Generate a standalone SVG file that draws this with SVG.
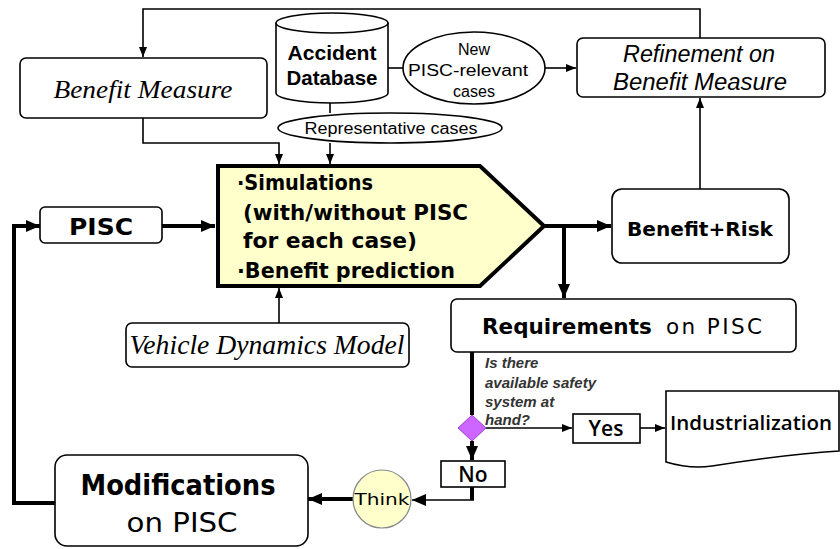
<svg xmlns="http://www.w3.org/2000/svg" width="840" height="549" viewBox="0 0 840 549">
<defs>
<style>
.box{fill:#fff;stroke:#000;stroke-width:1.6}
.thin{fill:none;stroke:#000;stroke-width:1.6}
.thick{fill:none;stroke:#000;stroke-width:4}
.sans{font-family:"Liberation Sans",Arial,sans-serif}
.serif{font-family:"Liberation Serif","Times New Roman",serif;font-style:italic}
.comic{font-family:"DejaVu Sans","Noto Sans",sans-serif}
.open{font-family:"Open Sans","Noto Sans",sans-serif}
</style>
<marker id="ah" markerUnits="userSpaceOnUse" markerWidth="10" markerHeight="10" viewBox="0 0 10 10" refX="10" refY="5" orient="auto">
<path d="M0,1 L10,5 L0,9 Z" fill="#000"/>
</marker>
<marker id="ahb" markerUnits="userSpaceOnUse" markerWidth="14" markerHeight="14" viewBox="0 0 14 14" refX="14" refY="7" orient="auto">
<path d="M0,1 L14,7 L0,13 Z" fill="#000"/>
</marker>
</defs>
<rect width="840" height="549" fill="#fff"/>

<g id="connectors">
<path class="thin" d="M700,38 V9 H143 V57" marker-end="url(#ah)"/>
<path class="thin" d="M700,189 V98" marker-end="url(#ah)"/>
<path class="thin" d="M388,68 H403"/>
<path class="thin" d="M545,68 H576" marker-end="url(#ah)"/>
<path class="thin" d="M330,103 V113"/>
<path class="thin" d="M330,143 V164" marker-end="url(#ah)"/>
<path class="thin" d="M143,118 V143 H279 V164" marker-end="url(#ah)"/>
<path class="thin" d="M279,323 V288" marker-end="url(#ah)"/>
<path class="thick" d="M162,226 H215" marker-end="url(#ahb)"/>
<path class="thick" d="M545,226 H611" marker-end="url(#ahb)"/>
<path class="thick" d="M564,226 V298" marker-end="url(#ahb)"/>
<path class="thick" d="M472,352 V415"/>
<path class="thin" d="M486,428 H572" marker-end="url(#ah)"/>
<path class="thin" d="M640,428 H665" stroke-width="2.2" marker-end="url(#ah)"/>
<path class="thick" d="M472,441 V460" marker-end="url(#ahb)"/>
<path class="thick" d="M472,487 V500"/>
<path class="thin" d="M474,500 H412" stroke-width="3" marker-end="url(#ahb)"/>
<path class="thick" d="M353,499 H308" marker-end="url(#ahb)"/>
<path class="thick" d="M55,503 H14 V226 H40" marker-end="url(#ahb)"/>
</g>

<g id="benefit-measure">
<rect class="box" x="20" y="58" width="247" height="60" rx="6"/>
<text class="serif" x="143" y="98" font-size="26" text-anchor="middle" textLength="179" lengthAdjust="spacingAndGlyphs">Benefit Measure</text>
</g>

<g id="accident-database">
<path class="box" d="M276,23 V93 A56,10 0 0 0 388,93 V23 A56,10 0 0 0 276,23 Z"/>
<path class="thin" d="M276,23 A56,10 0 0 0 388,23"/>
<text class="sans" x="332" y="60" font-size="21" font-weight="bold" text-anchor="middle" textLength="89" lengthAdjust="spacingAndGlyphs">Accident</text>
<text class="sans" x="332" y="85" font-size="21" font-weight="bold" text-anchor="middle" textLength="91" lengthAdjust="spacingAndGlyphs">Database</text>
</g>

<g id="new-cases">
<ellipse class="box" cx="474" cy="68" rx="71" ry="36"/>
<text class="sans" x="474" y="55" font-size="16" text-anchor="middle">New</text>
<text class="sans" x="468" y="76" font-size="16" text-anchor="middle" textLength="120" lengthAdjust="spacingAndGlyphs">PISC-relevant</text>
<text class="sans" x="474" y="97" font-size="16" text-anchor="middle">cases</text>
</g>

<g id="refinement">
<rect class="box" x="577" y="38" width="248" height="59" rx="6"/>
<text class="sans" x="699" y="62" font-size="23" font-style="italic" text-anchor="middle" textLength="152" lengthAdjust="spacingAndGlyphs">Refinement on</text>
<text class="sans" x="700" y="90" font-size="23" font-style="italic" text-anchor="middle" textLength="174" lengthAdjust="spacingAndGlyphs">Benefit Measure</text>
</g>

<g id="representative-cases">
<ellipse class="box" cx="390" cy="128" rx="112" ry="15"/>
<text class="sans" x="391" y="134" font-size="16" text-anchor="middle" textLength="173" lengthAdjust="spacingAndGlyphs">Representative cases</text>
</g>

<g id="simulations">
<path d="M218,166 H480 L544,226 L480,286 H218 Z" fill="#FFFFCC" stroke="#000" stroke-width="4" stroke-linejoin="miter"/>
<g class="comic" font-size="21" font-weight="bold">
<text x="237" y="190" textLength="136" lengthAdjust="spacingAndGlyphs">·Simulations</text>
<text x="243" y="220" textLength="225" lengthAdjust="spacingAndGlyphs">(with/without PISC</text>
<text x="243" y="248" textLength="174" lengthAdjust="spacingAndGlyphs">for each case)</text>
<text x="237" y="278" textLength="218" lengthAdjust="spacingAndGlyphs">·Benefit prediction</text>
</g>
</g>

<g id="pisc">
<rect class="box" x="40" y="207" width="122" height="36" rx="5"/>
<text class="comic" x="101" y="235" font-size="23" font-weight="bold" text-anchor="middle" textLength="64" lengthAdjust="spacingAndGlyphs">PISC</text>
</g>

<g id="vehicle-dynamics">
<rect class="box" x="126" y="323" width="283" height="44" rx="6"/>
<text class="serif" x="267" y="354" font-size="27" text-anchor="middle" textLength="275" lengthAdjust="spacingAndGlyphs">Vehicle Dynamics Model</text>
</g>

<g id="benefit-risk">
<rect class="box" x="612" y="189" width="177" height="74" rx="10"/>
<text class="comic" x="700" y="236" font-size="20" font-weight="bold" text-anchor="middle" textLength="146" lengthAdjust="spacingAndGlyphs">Benefit+Risk</text>
</g>

<g id="requirements">
<rect class="box" x="451" y="299" width="345" height="53" rx="6"/>
<text class="comic" x="482" y="334" font-size="21.5" font-weight="bold">Requirements</text>
<text class="comic" x="666" y="334" font-size="21.5" letter-spacing="2.4">on PISC</text>
</g>

<g id="decision">
<polygon points="472,415 486,428 472,441 458,428" fill="#CC66FF" stroke="#9944cc" stroke-width="1"/>
<g class="sans" font-size="15" font-style="italic" fill="#333" font-weight="bold">
<text x="485" y="368">Is there</text>
<text x="485" y="388" textLength="111" lengthAdjust="spacingAndGlyphs">available safety</text>
<text x="485" y="407">system at</text>
<text x="485" y="425">hand?</text>
</g>
</g>

<g id="yes">
<rect class="box" x="573" y="414" width="67" height="29" stroke-width="2"/>
<text class="open" x="606" y="436" font-size="21" font-weight="600" text-anchor="middle">Yes</text>
</g>

<g id="industrialization">
<path class="box" d="M666,391 H839 V451 C790,454 750,460 712,466 C692,469 676,465 666,462 Z"/>
<text class="open" x="670" y="430" font-size="20.5" font-weight="600">Industrialization</text>
</g>

<g id="no">
<rect class="box" x="441" y="461" width="64" height="26" stroke-width="2"/>
<text class="open" x="473" y="482" font-size="21" font-weight="600" text-anchor="middle">No</text>
</g>

<g id="think">
<circle cx="382" cy="499" r="29" fill="#FFFFCC" stroke="#888" stroke-width="1.2"/>
<text class="comic" x="382" y="505" font-size="16" text-anchor="middle" textLength="55" lengthAdjust="spacingAndGlyphs">Think</text>
</g>

<g id="modifications">
<rect class="box" x="55" y="455" width="253" height="91" rx="12"/>
<text class="comic" x="178" y="495" font-size="28" font-weight="bold" text-anchor="middle" textLength="195" lengthAdjust="spacingAndGlyphs">Modifications</text>
<text class="comic" x="182" y="532" font-size="27" text-anchor="middle" textLength="111" lengthAdjust="spacingAndGlyphs">on PISC</text>
</g>
</svg>
